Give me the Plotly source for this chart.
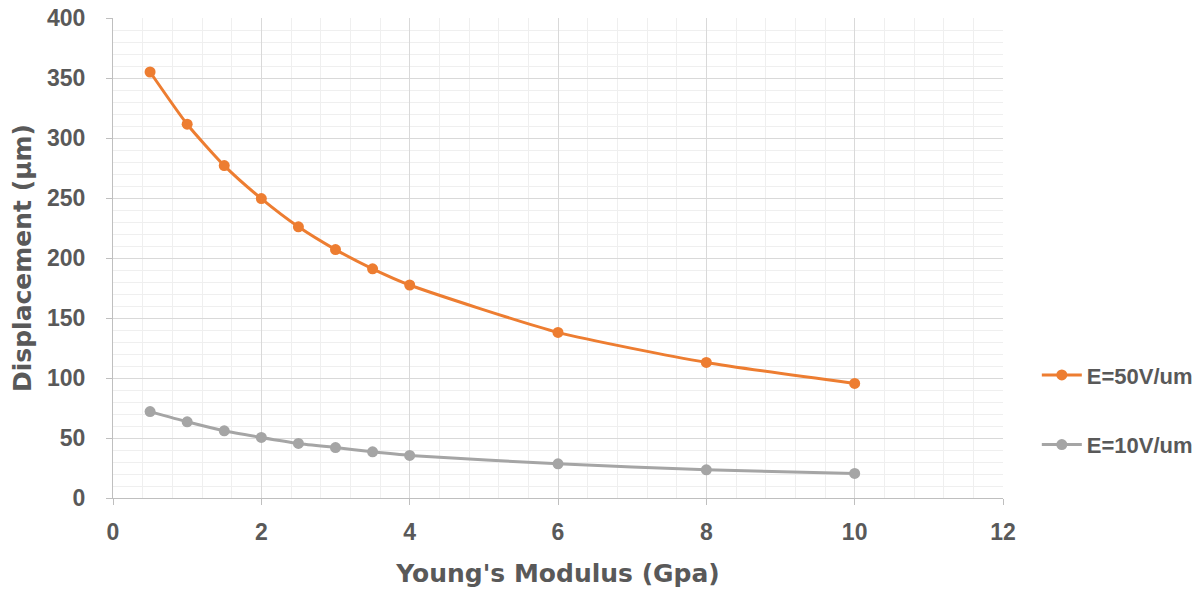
import plotly.graph_objects as go

modulus = [0.5, 1, 1.5, 2, 2.5, 3, 3.5, 4, 6, 8, 10]
disp_50 = [355, 311.5, 277, 249.5, 226, 207, 191, 177.5, 138, 113, 95.5]
disp_10 = [72, 63.5, 56, 50.5, 45.5, 42, 38.5, 35.5, 28.5, 23.5, 20.5]
series_names = ["E=50V/um", "E=10V/um"]
colors = ["#ED7D31", "#A5A5A5"]

tick_font = "Liberation Sans, Arial, sans-serif"
title_font = "DejaVu Sans, Verdana, sans-serif"
text_color = "#595959"

fig = go.Figure()
for i, (name, ys, c) in enumerate(zip(series_names, [disp_50, disp_10], colors)):
    fig.add_trace(go.Scatter(
        x=modulus, y=ys, name=name, mode="lines+markers",
        legendgroup=f"g{i}",
        line=dict(color=c, width=3, shape="spline", smoothing=0.6),
        marker=dict(color=c, size=11),
    ))

fig.update_layout(
    width=1200, height=590,
    margin=dict(l=105, r=205, t=10, b=100, autoexpand=False),
    paper_bgcolor="white", plot_bgcolor="white",
    font=dict(family=tick_font, color=text_color, size=22, weight="bold"),
    showlegend=True,
    legend=dict(
        x=1.038, y=0.183, xanchor="left", yanchor="middle",
        font=dict(size=22, color=text_color, family=tick_font, weight="bold"),
        traceorder="grouped", tracegroupgap=38, itemwidth=40,
        bgcolor="rgba(0,0,0,0)",
    ),
    xaxis=dict(
        range=[0, 12], tickmode="linear", tick0=0, dtick=2,
        automargin=False,
        showgrid=True, gridcolor="#d9d9d9", gridwidth=1,
        minor=dict(dtick=0.4, tick0=0, showgrid=True, gridcolor="#efefef", gridwidth=1, ticklen=0),
        showline=True, linecolor="#bfbfbf", linewidth=1,
        ticks="outside", ticklen=6, tickcolor="#bfbfbf",
        ticklabelstandoff=7,
        ticklabeloverflow="allow",
        zeroline=False,
        tickfont=dict(size=23, color=text_color, family=tick_font, weight="bold"),
        title=dict(text="Young's Modulus (Gpa)", standoff=20,
                   font=dict(size=25, color=text_color, family=title_font, weight="bold")),
    ),
    yaxis=dict(
        range=[0, 400], tickmode="linear", tick0=0, dtick=50,
        automargin=False,
        showgrid=True, gridcolor="#d9d9d9", gridwidth=1,
        minor=dict(dtick=10, tick0=0, showgrid=True, gridcolor="#efefef", gridwidth=1, ticklen=0),
        showline=True, linecolor="#bfbfbf", linewidth=1,
        ticks="outside", ticklen=6, tickcolor="#bfbfbf",
        ticklabelstandoff=16,
        ticklabeloverflow="allow",
        zeroline=False,
        tickfont=dict(size=23, color=text_color, family=tick_font, weight="bold"),
        title=dict(text="Displacement (µm)", standoff=12,
                   font=dict(size=25, color=text_color, family=title_font, weight="bold")),
    ),
)

fig.write_html("out.html")
